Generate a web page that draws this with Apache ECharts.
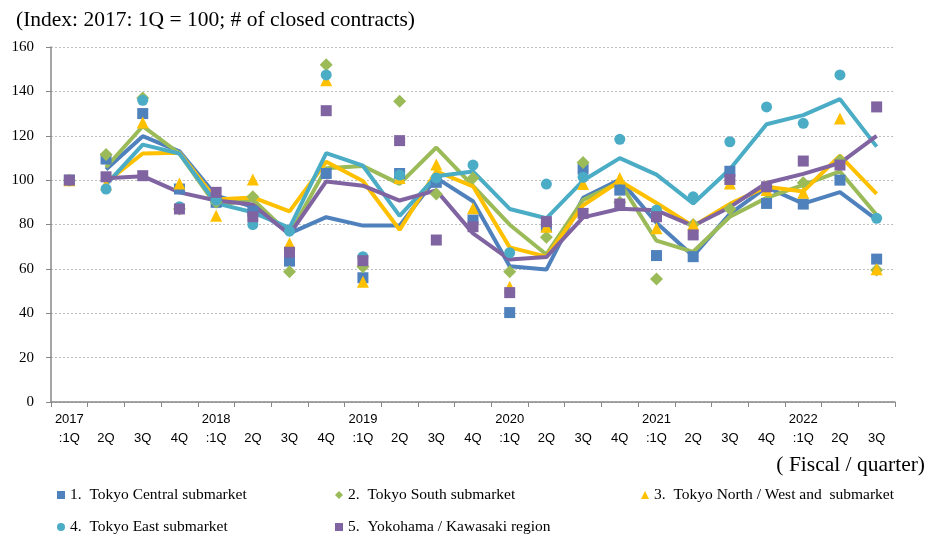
<!DOCTYPE html>
<html><head><meta charset="utf-8">
<script src="https://cdn.jsdelivr.net/npm/echarts@6/dist/echarts.min.js"></script>
<style>html,body{margin:0;padding:0;background:#fff}#c{width:930px;height:537px}</style>
</head><body><div id="c"></div>
<script>
const years = ['2017','','','','2018','','','','2019','','','','2020','','','','2021','','','','2022','',''];
const quarters = [':1Q','2Q','3Q','4Q',':1Q','2Q','3Q','4Q',':1Q','2Q','3Q','4Q',':1Q','2Q','3Q','4Q',':1Q','2Q','3Q','4Q',':1Q','2Q','3Q'];
const names = ['1.  Tokyo Central submarket','2.  Tokyo South submarket','3.  Tokyo North / West and  submarket','4.  Tokyo East submarket','5.  Yokohama / Kawasaki region'];
const colors = ['#4F81BD','#9BBB59','#FFC000','#4BACC6','#8064A2'];
const symbols = ['rect','diamond','triangle','circle','rect'];
const symSizes = [11,13,12,11,11];

// quarterly index (markers)
const central = [100,109.5,130,96,90,86,63.5,103,56,103,99,82,40.3,79,105,95.5,66,65.5,104,89.5,89.2,100,64.4];
const south   = [100,111.5,137,87,90,92.5,58.7,152,61,135.6,93.7,101,58.7,74.2,108,90,55.4,80,87,97,98.8,109,59.5];
const northWest=[100,98,126,98.5,84,100.3,71.5,145,54.2,101,107,87.3,52,79,98.2,101,78.3,80,98.5,95.5,94.3,127.8,59.8];
const east    = [100,96,136,88,91,80,77,147.4,65.5,102.3,101,106.8,67.3,98.2,101.3,118.4,86.5,92.5,117.3,133,125.6,147.4,82.8];
const yokohama= [100,101.5,102,87,94.5,83.5,67.5,131.3,63.7,117.8,73,79,49.3,81.3,85,89.2,83.5,75.3,100.3,97,108.6,106.8,133];

// trend lines
const centralLine = [null,104.8,119.8,113,93,88,76,83.3,79.5,79.5,101,90.5,61.2,59.7,92,100.3,80.8,65.8,84.8,96.8,89.4,94.6,82.2];
const southLine   = [null,105.8,124.3,112,88.5,91.3,75.6,105.4,106.4,98.3,114.7,97.4,79.9,66.5,91.1,99,72.7,67.7,83.5,92,97.9,103.9,84.3];
const northWestLine=[null,99,112,112.3,91.3,92.2,85.9,108.3,99.6,77.6,104,97.2,69.7,65.5,88.6,99.6,89.7,79.2,89.3,97,94.9,111,93.8];
const eastLine    = [null,98,116,112,89.5,85.5,78.5,112.2,106.5,83.9,101.7,103.9,87,82.8,99.8,109.9,102.5,89.5,104.9,125.2,129.3,136.5,115.1];
const yokohamaLine= [null,100.8,101.8,94.5,90.8,89,75.5,99.4,97.5,90.8,95.4,76,64.2,65.3,83.2,87.1,86.4,79.4,87.8,98.7,102.8,107.7,119.9];

const points = [central,south,northWest,east,yokohama];
const lines = [centralLine,southLine,northWestLine,eastLine,yokohamaLine];
const categories = quarters.map((q,i)=>years[i]+'|'+q);

const series = [];
lines.forEach((d,k)=>series.push({
  name:'trend'+k, type:'line', data:d, symbol:'none', z:2,
  lineStyle:{color:colors[k],width:4}, itemStyle:{color:colors[k]}, silent:true, animation:false
}));
points.forEach((d,k)=>series.push({
  name:names[k], type:'scatter', data:d, symbol:symbols[k], symbolSize:symSizes[k], z:3,
  itemStyle:{color:colors[k],opacity:1}, animation:false
}));

const legendPos = [[52,482],[330,482],[636,482],[52,514],[330,514]];
const legends = names.map((n,k)=>({
  data:[{name:n,icon:symbols[k]}], left:legendPos[k][0], top:legendPos[k][1],
  itemWidth:8, itemHeight:8, itemGap:4, selectedMode:false,
  textStyle:{fontFamily:'Liberation Serif',fontSize:15.5,color:'#000'}
}));

const chart = echarts.init(document.getElementById('c'),null,{renderer:'canvas'});
chart.setOption({
  animation:false,
  title:{text:'(Index: 2017: 1Q = 100; # of closed contracts)',left:11,top:4,
    textStyle:{fontFamily:'Liberation Serif',fontSize:21.5,fontWeight:'normal',color:'#000'}},
  graphic:[{type:'text',right:5,top:454,style:{text:'( Fiscal / quarter)',font:'21.5px "Liberation Serif"',fill:'#000'}}],
  legend:legends,
  grid:{left:51,right:35,top:47,bottom:135},
  xAxis:{type:'category',data:categories,boundaryGap:true,
    axisLine:{lineStyle:{color:'#878787',width:1.5}},
    axisTick:{show:true,length:5,lineStyle:{color:'#878787'}},
    axisLabel:{interval:0,margin:8,lineHeight:19,fontFamily:'Liberation Sans Narrow, Liberation Sans',fontSize:13,color:'#000',
      formatter:v=>{const p=v.split('|');return p[0]+'\n'+p[1];}}},
  yAxis:{type:'value',min:0,max:160,interval:20,
    axisLine:{show:true,lineStyle:{color:'#878787',width:1.5}},
    axisTick:{show:true,length:5,lineStyle:{color:'#878787'}},
    splitLine:{lineStyle:{color:'#bdbdbd',type:[2,2],width:1}},
    axisLabel:{margin:17,fontFamily:'Liberation Serif',fontSize:15,color:'#000'}},
  series:series
});
</script></body></html>
